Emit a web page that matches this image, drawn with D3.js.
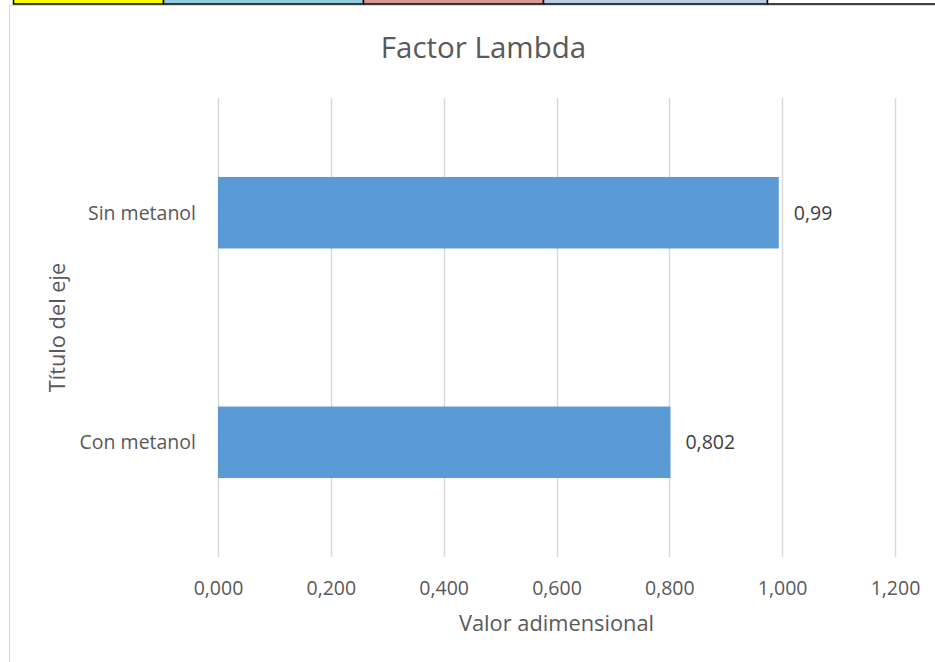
<!DOCTYPE html>
<html>
<head>
<meta charset="utf-8">
<script src="https://cdn.jsdelivr.net/npm/d3@7"></script>
<style>
  html, body { margin: 0; padding: 0; background: #fff; }
  svg { display: block; font-family: "Open Sans", sans-serif; }
</style>
</head>
<body>
<svg id="chart" width="935" height="662"></svg>
<script>
// ---- data ----
const title = "Factor Lambda";
const categories = ["Sin metanol", "Con metanol"];   // top to bottom
const values = [0.994, 0.802];
const valueLabels = ["0,99", "0,802"];
const tickValues = [0, 0.2, 0.4, 0.6, 0.8, 1.0, 1.2];
const tickLabels = ["0,000", "0,200", "0,400", "0,600", "0,800", "1,000", "1,200"];
const xAxisTitle = "Valor adimensional";
const yAxisTitle = "Título del eje";
const stripColors = ["#FFFF00", "#92CDDC", "#DA9694", "#B8CCE4", "#FFFFFF"];
const stripEdges = [13.5, 163.5, 363.5, 543.5, 767.5, 940];

// ---- layout ----
const svg = d3.select("#chart");
const textColor = "#595959";
const plot = { left: 218, right: 895, top: 98, bottom: 557 };

// spreadsheet strip at the top
const strip = svg.append("g");
stripColors.forEach((c, i) => {
  strip.append("rect")
    .attr("x", stripEdges[i]).attr("y", -2)
    .attr("width", stripEdges[i + 1] - stripEdges[i]).attr("height", 6)
    .attr("fill", c).attr("stroke", "#000").attr("stroke-width", 1.5);
});

// chart frame
svg.append("rect")
  .attr("x", 9.5).attr("y", 5.5)
  .attr("width", 960).attr("height", 700)
  .attr("fill", "#fff").attr("stroke", "#D9D9D9").attr("stroke-width", 1);

const x = d3.scaleLinear().domain([0, 1.2]).range([plot.left, plot.right]);
const y = d3.scaleBand().domain(categories).range([plot.top, plot.bottom])
  .paddingInner(0.6885).paddingOuter(0.344);

// gridlines
svg.append("g").selectAll("line").data(tickValues).join("line")
  .attr("x1", d => Math.round(x(d)) + 0.5).attr("x2", d => Math.round(x(d)) + 0.5)
  .attr("y1", plot.top).attr("y2", plot.bottom)
  .attr("stroke", "#D9D9D9").attr("stroke-width", 1.5);

// x axis tick labels
const xAxis = d3.axisBottom(x).tickValues(tickValues)
  .tickFormat((d, i) => tickLabels[i]).tickSize(0).tickPadding(0);
const gx = svg.append("g").attr("transform", `translate(0,${plot.bottom})`).call(xAxis);
gx.select(".domain").remove();
gx.selectAll("text").attr("fill", textColor).attr("font-size", 19.5)
  .attr("font-family", "Open Sans").attr("dy", null).attr("y", 38);

// y axis category labels
const yAxis = d3.axisLeft(y).tickSize(0).tickPadding(22);
const gy = svg.append("g").attr("transform", `translate(${plot.left},0)`).call(yAxis);
gy.select(".domain").remove();
gy.selectAll("text").attr("fill", textColor).attr("font-size", 19.5)
  .attr("font-family", "Open Sans").attr("dy", "0.36em");

// bars
svg.append("g").selectAll("rect").data(categories).join("rect")
  .attr("x", x(0))
  .attr("y", d => y(d))
  .attr("width", (d, i) => x(values[i]) - x(0))
  .attr("height", y.bandwidth())
  .attr("fill", "#5B9BD5");

// value labels
svg.append("g").selectAll("text").data(categories).join("text")
  .attr("x", (d, i) => x(values[i]) + 15)
  .attr("y", d => y(d) + y.bandwidth() / 2)
  .attr("dy", "0.36em")
  .attr("fill", "#404040").attr("font-size", 19.5)
  .text((d, i) => valueLabels[i]);

// title
svg.append("text").attr("x", 483.5).attr("y", 58)
  .attr("text-anchor", "middle").attr("fill", textColor)
  .attr("font-size", 29.5).text(title);

// axis titles
svg.append("text").attr("x", (plot.left + plot.right) / 2).attr("y", 631)
  .attr("text-anchor", "middle").attr("fill", textColor)
  .attr("font-size", 21.8).text(xAxisTitle);

svg.append("text")
  .attr("transform", `translate(65,${(plot.top + plot.bottom) / 2}) rotate(-90)`)
  .attr("text-anchor", "middle").attr("fill", textColor)
  .attr("font-size", 21.8).text(yAxisTitle);
</script>
</body>
</html>
